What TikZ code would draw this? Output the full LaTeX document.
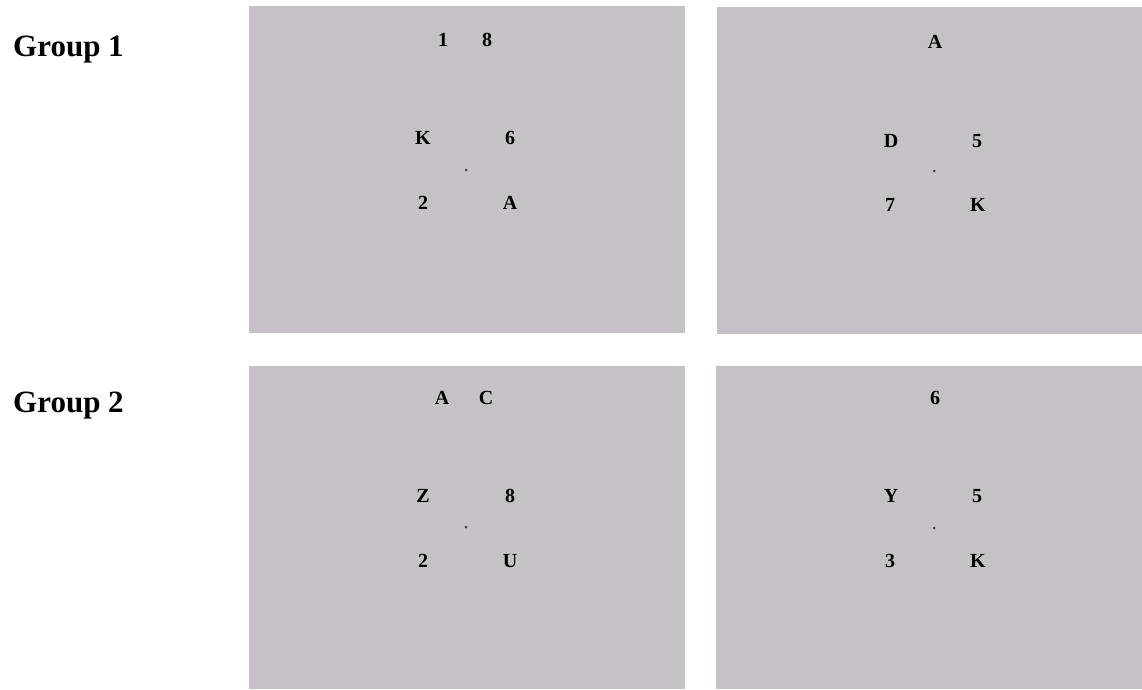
\documentclass[tikz,border=0pt]{standalone}
\usepackage{fontspec}
\setmainfont{Liberation Serif}
\definecolor{panelgray}{RGB}{198,193,199}
\definecolor{dotgray}{RGB}{70,66,70}
\begin{document}
\begin{tikzpicture}[x=1pt,y=-1pt,
  panel/.style={fill=panelgray,draw=none},
  stim/.style={inner sep=0pt,font=\fontsize{20}{22}\selectfont\bfseries,text=black},
  grouplabel/.style={inner sep=0pt,anchor=west,font=\fontsize{31}{34}\selectfont\bfseries},
  fix/.style={circle,fill=dotgray,inner sep=0pt,minimum size=3pt}]
\useasboundingbox (0,0) rectangle (1142,689);
\fill[white] (0,0) rectangle (1142,689);
% panels
\fill[panel] (249,6) rectangle (685,333);
\fill[panel] (717,7) rectangle (1142,334);
\fill[panel] (249,366) rectangle (685,689);
\fill[panel] (716,366) rectangle (1142,689);
% labels
\node[grouplabel] (g1) at (13,50) {Group 1};
\node[grouplabel] (g2) at (13,406) {Group 2};
% panel 1
\node[stim] (p1a) at (443,40) {1};
\node[stim] (p1b) at (487,40) {8};
\node[stim] (p1c) at (423,138) {K};
\node[stim] (p1d) at (510,138) {6};
\node[fix] (p1f) at (466,170) {};
\node[stim] (p1e) at (423,203) {2};
\node[stim] (p1g) at (510,203) {A};
% panel 2
\node[stim] (p2a) at (935,42) {A};
\node[stim] (p2c) at (891,141) {D};
\node[stim] (p2d) at (977,141) {5};
\node[fix] (p2f) at (934,171) {};
\node[stim] (p2e) at (890,205) {7};
\node[stim] (p2g) at (978,205) {K};
% panel 3
\node[stim] (p3a) at (442,398) {A};
\node[stim] (p3b) at (486,398) {C};
\node[stim] (p3c) at (423,496) {Z};
\node[stim] (p3d) at (510,496) {8};
\node[fix] (p3f) at (466,527) {};
\node[stim] (p3e) at (423,561) {2};
\node[stim] (p3g) at (510,561) {U};
% panel 4
\node[stim] (p4a) at (935,398) {6};
\node[stim] (p4c) at (891,496) {Y};
\node[stim] (p4d) at (977,496) {5};
\node[fix] (p4f) at (934,528) {};
\node[stim] (p4e) at (890,561) {3};
\node[stim] (p4g) at (978,561) {K};
\end{tikzpicture}
\end{document}
